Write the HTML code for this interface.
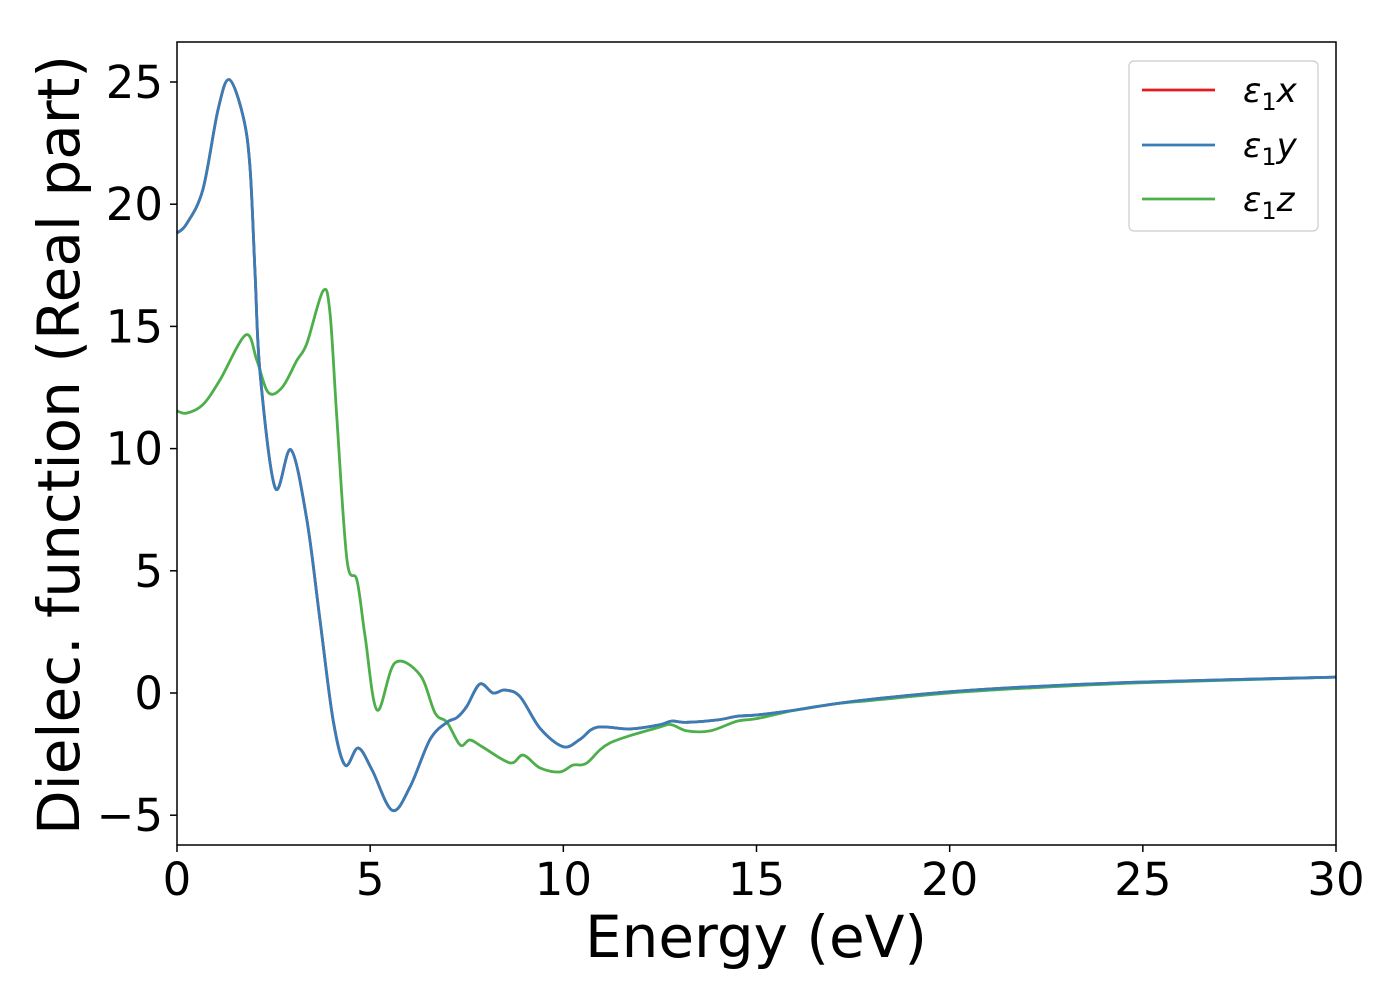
<!DOCTYPE html>
<html><head><meta charset="utf-8"><style>
body{margin:0;background:#fff}
svg{font-family:"DejaVu Sans","Liberation Sans",sans-serif}
</style></head><body>
<svg id="chart" width="1400" height="1000" viewBox="0 0 1400 1000">
<rect width="1400" height="1000" fill="#fff"/>
<g id="series"></g>
<rect x="177" y="42" width="1159" height="803" fill="none" stroke="#000" stroke-width="1.5"/>
<g id="xticks"></g><g id="yticks"></g>
<text x="756" y="957" font-size="58" text-anchor="middle">Energy (eV)</text>
<text transform="translate(79,445) rotate(-90)" font-size="58" text-anchor="middle">Dielec. function (Real part)</text>
<g>
<rect x="1129" y="61" width="189" height="170" rx="5" fill="#fff" stroke="#ccc" stroke-width="1.2"/>
<g><line x1="1142" y1="90" x2="1215" y2="90" stroke="#e41a1c" stroke-width="2.8"/><text x="1243" y="102" font-size="34" font-style="italic">ε<tspan font-style="normal" font-size="24" dy="8">1</tspan><tspan dy="-8">x</tspan></text></g>
<g><line x1="1142" y1="145" x2="1215" y2="145" stroke="#377eb8" stroke-width="2.8"/><text x="1243" y="157" font-size="34" font-style="italic">ε<tspan font-style="normal" font-size="24" dy="8">1</tspan><tspan dy="-8">y</tspan></text></g>
<g><line x1="1142" y1="199" x2="1215" y2="199" stroke="#4daf4a" stroke-width="2.8"/><text x="1243" y="211" font-size="34" font-style="italic">ε<tspan font-style="normal" font-size="24" dy="8">1</tspan><tspan dy="-8">z</tspan></text></g>
</g>
</svg>
<script>
const energyXY=[0,0.25,0.67,1.06,1.35,1.71,1.89,2.02,2.15,2.54,2.95,3.36,3.7,4.04,4.35,4.69,5.05,5.57,6.03,6.55,6.99,7.25,7.5,7.84,8.18,8.49,8.88,9.4,10,10.43,10.87,11.73,12.5,12.8,13.2,14,14.5,15,16,17,18,20,22,25,30];
const epsXY=[18.82,19.2,20.6,23.85,25.1,23.6,21.5,17.2,13.1,8.4,9.95,7.1,3.0,-1.1,-2.95,-2.25,-3.15,-4.8,-3.85,-1.9,-1.2,-1.0,-0.55,0.37,0,0.12,-0.15,-1.45,-2.2,-1.9,-1.4,-1.47,-1.3,-1.15,-1.2,-1.1,-0.95,-0.9,-0.7,-0.45,-0.25,0.05,0.25,0.45,0.65];
const energyZ=[0,0.25,0.67,1.11,1.78,2.07,2.36,2.72,3.1,3.36,3.78,3.96,4.14,4.4,4.66,4.87,5.18,5.64,6.29,6.68,6.99,7.33,7.58,7.9,8.62,8.96,9.4,9.91,10.25,10.6,11.2,12.5,12.8,13.2,13.8,14.5,15,16,17,18,20,22,25,30];
const epsZ=[11.54,11.45,11.8,12.8,14.65,13.6,12.3,12.5,13.6,14.3,16.45,15.55,11.2,5.44,4.6,2.3,-0.7,1.23,0.74,-0.82,-1.2,-2.13,-1.92,-2.2,-2.86,-2.54,-3.07,-3.23,-2.95,-2.87,-2.05,-1.39,-1.3,-1.55,-1.55,-1.15,-1.05,-0.7,-0.45,-0.3,0,0.2,0.42,0.65];
const xTicks=[0,5,10,15,20,25,30];
const yTicks=[-5,0,5,10,15,20,25];
const NS="http://www.w3.org/2000/svg";
const sx=e=>177+e*(1159/30);
const sy=v=>693-v*24.44;
function pathFor(xs,ys){
  const p=xs.map((x,i)=>[sx(x),sy(ys[i])]);
  let d="M"+p[0][0]+","+p[0][1];
  for(let i=0;i<p.length-1;i++){
    const p0=p[i-1]||p[i],p1=p[i],p2=p[i+1],p3=p[i+2]||p2;
    d+=" C"+(p1[0]+(p2[0]-p0[0])/6)+","+(p1[1]+(p2[1]-p0[1])/6)+" "+(p2[0]-(p3[0]-p1[0])/6)+","+(p2[1]-(p3[1]-p1[1])/6)+" "+p2[0]+","+p2[1];
  }
  return d;
}
const g=document.getElementById("series");
[["series-eps1-x",energyXY,epsXY,"#e41a1c"],["series-eps1-z",energyZ,epsZ,"#4daf4a"],["series-eps1-y",energyXY,epsXY,"#377eb8"]].forEach(s=>{
  const el=document.createElementNS(NS,"path");
  el.setAttribute("d",pathFor(s[1],s[2]));
  el.setAttribute("fill","none");el.setAttribute("stroke",s[3]);el.setAttribute("stroke-width","2.8");
  
  
  g.appendChild(el);
});
const xg=document.getElementById("xticks");
xTicks.forEach(t=>{
  const l=document.createElementNS(NS,"line");
  l.setAttribute("x1",sx(t));l.setAttribute("x2",sx(t));l.setAttribute("y1",845);l.setAttribute("y2",852);l.setAttribute("stroke","#000");l.setAttribute("stroke-width","1.5");
  
  
  xg.appendChild(l);
  const tx=document.createElementNS(NS,"text");
  tx.setAttribute("x",sx(t));tx.setAttribute("y",895);tx.setAttribute("font-size","45");tx.setAttribute("text-anchor","middle");
  tx.textContent=t;
  
  
  xg.appendChild(tx);
});
const yg=document.getElementById("yticks");
yTicks.forEach(t=>{
  const l=document.createElementNS(NS,"line");
  l.setAttribute("x1",170);l.setAttribute("x2",177);l.setAttribute("y1",sy(t));l.setAttribute("y2",sy(t));l.setAttribute("stroke","#000");l.setAttribute("stroke-width","1.5");
  
  
  yg.appendChild(l);
  const tx=document.createElementNS(NS,"text");
  tx.setAttribute("x",163);tx.setAttribute("y",sy(t)+16);tx.setAttribute("font-size","45");tx.setAttribute("text-anchor","end");
  tx.textContent=t<0?"\u2212"+(-t):t;
  
  
  yg.appendChild(tx);
});
</script>
</body></html>
